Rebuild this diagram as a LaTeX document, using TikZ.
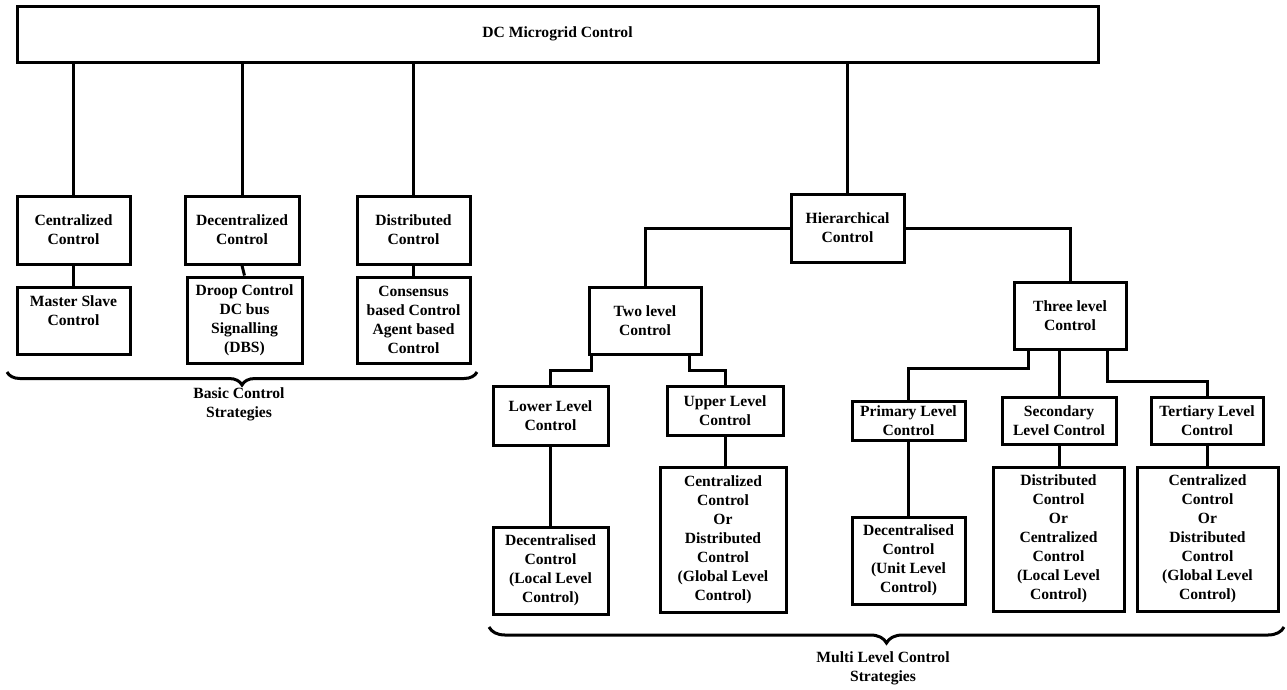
\documentclass[tikz,border=0pt]{standalone}
\usepackage{fontspec}
\setmainfont{Liberation Serif}
\usetikzlibrary{decorations.pathreplacing}
\tikzset{
  box/.style={draw, line width=3pt, align=center, inner sep=0pt,
    font=\bfseries\fontsize{15.6}{19}\selectfont},
  lbl/.style={align=center, inner sep=0pt, font=\bfseries\fontsize{15.6}{19}\selectfont},
  link/.style={line width=3pt},
  bracestyle/.style={line width=3pt, decorate, decoration={brace, mirror, amplitude=#1}},
}
\begin{document}
\begin{tikzpicture}[x=1pt, y=-1pt]
\useasboundingbox (0,0) rectangle (1287,689);
% top
\node[box, minimum width=1081pt, minimum height=56pt] (top) at (557.5,34) {DC Microgrid Control};
% basic strategies
\node[box, minimum width=113pt, minimum height=68pt] (cen) at (73.5,230) {Centralized\\Control};
\node[box, minimum width=113pt, minimum height=67pt] (ms) at (73.5,320.5) {Master Slave\\Control\\\mbox{}};
\node[box, minimum width=114pt, minimum height=68pt] (dec) at (242,230) {Decentralized\\Control};
\node[box, minimum width=115pt, minimum height=86pt] (droop) at (244.5,320) {Droop Control\\DC bus\\Signalling\\(DBS)};
\node[box, minimum width=113pt, minimum height=68pt] (dis) at (413.5,230) {Distributed\\Control};
\node[box, minimum width=113pt, minimum height=86pt] (cons) at (413.5,320) {Consensus\\based Control\\Agent based\\Control};
% hierarchical
\node[box, minimum width=113pt, minimum height=68pt] (hier) at (847.5,228) {Hierarchical\\Control};
\node[box, minimum width=112pt, minimum height=67pt] (two) at (645,320.5) {Two level\\Control};
\node[box, minimum width=112pt, minimum height=67pt] (three) at (1070,315.5) {Three level\\Control};
\node[box, minimum width=115pt, minimum height=59pt] (lower) at (550.5,415.5) {Lower Level\\Control};
\node[box, minimum width=116pt, minimum height=49pt] (upper) at (725,410.5) {Upper Level\\Control};
\node[box, minimum width=115pt, minimum height=87pt] (lowb) at (550.5,570.5) {Decentralised\\Control\\(Local Level\\Control)};
\node[box, minimum width=126pt, minimum height=145pt] (upb) at (723,539.5) {Centralized\\Control\\Or\\Distributed\\Control\\(Global Level\\Control)};
\node[box, minimum width=113pt, minimum height=39pt] (prim) at (908.5,420.5) {Primary Level\\Control};
\node[box, minimum width=113pt, minimum height=87pt] (primb) at (908.5,560.5) {Decentralised\\Control\\(Unit Level\\Control)};
\node[box, minimum width=114pt, minimum height=47pt] (sec) at (1059,420.5) {Secondary\\Level Control};
\node[box, minimum width=131pt, minimum height=144pt] (secb) at (1058.5,539) {Distributed\\Control\\Or\\Centralized\\Control\\(Local Level\\Control)};
\node[box, minimum width=112pt, minimum height=47pt] (ter) at (1207,420.5) {Tertiary Level\\Control};
\node[box, minimum width=141pt, minimum height=144pt] (terb) at (1207.5,539) {Centralized\\Control\\Or\\Distributed\\Control\\(Global Level\\Control)};
% connectors
\draw[link] (top.south -| cen.north) -- (cen.north);
\draw[link] (top.south -| dec.north) -- (dec.north);
\draw[link] (top.south -| dis.north) -- (dis.north);
\draw[link] (top.south -| hier.north) -- (hier.north);
\draw[link] (cen.south) -- (ms.north);
\draw[link] (dec.south) -- (droop.north);
\draw[link] (dis.south) -- (cons.north);
\draw[link] (hier.west) -| (two.north);
\draw[link] (hier.east) -| (three.north);
\draw[link] ([xshift=4pt]two.south west) -- ++(0,15) -| (lower.north);
\draw[link] ([xshift=-13pt]two.south east) -- ++(0,15) -| (upper.north);
\draw[link] ([xshift=16pt]three.south west) -- ++(0,18) -| (prim.north);
\draw[link] (sec.north |- three.south) -- (sec.north);
\draw[link] ([xshift=-20pt]three.south east) -- ++(0,31) -| (ter.north);
\draw[link] (lower.south) -- (lowb.north);
\draw[link] (upper.south) -- (upper.south |- upb.north);
\draw[link] (prim.south) -- (primb.north);
\draw[link] (sec.south) -- (sec.south |- secb.north);
\draw[link] (ter.south) -- (ter.south |- terb.north);
% braces
\coordinate (b1l) at (7,372);
\coordinate (b1r) at (477,372);
\draw[bracestyle=13] (b1l) -- (b1r);
\node[lbl] (basic) at (239,404) {Basic Control\\Strategies};
\coordinate (b2l) at (489,627);
\coordinate (b2r) at (1284,627);
\draw[bracestyle=16] (b2l) -- (b2r);
\node[lbl] (multi) at (883,668.5) {Multi Level Control\\Strategies};
\end{tikzpicture}
\end{document}
